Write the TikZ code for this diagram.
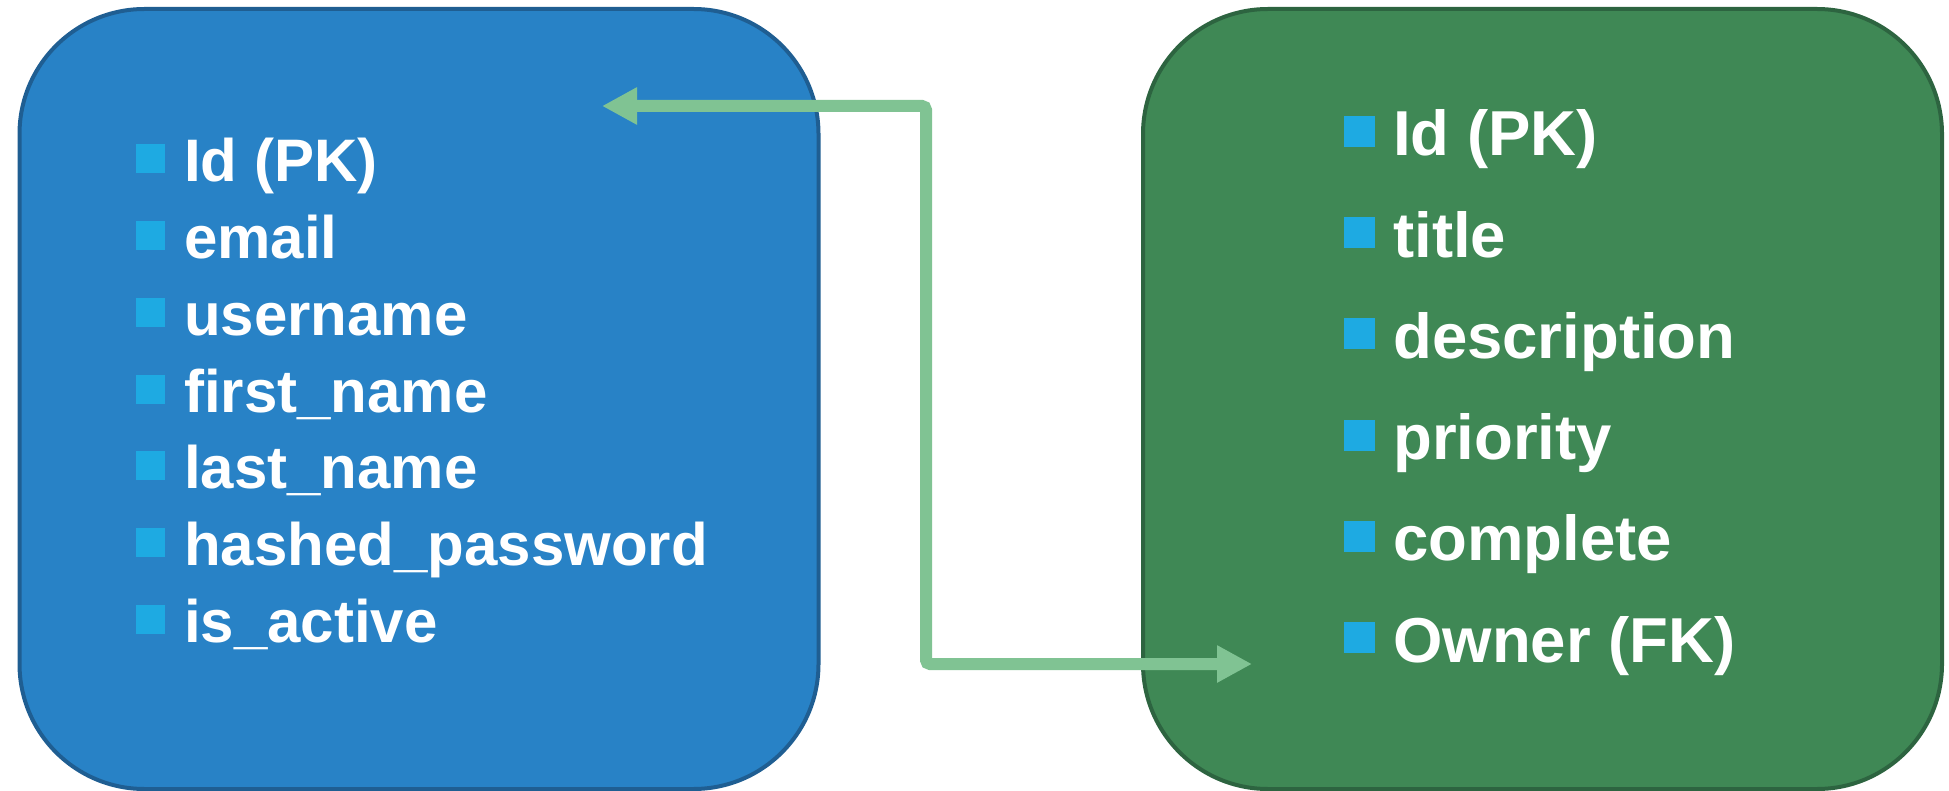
\documentclass[tikz,border=0pt]{standalone}
\usepackage{fontspec}
\setmainfont{Liberation Sans}
\usetikzlibrary{arrows.meta}
\definecolor{ublue}{HTML}{2882C6}
\definecolor{ubluedark}{HTML}{1F5E92}
\definecolor{tgreen}{HTML}{3F8855}
\definecolor{tgreendark}{HTML}{2D6440}
\definecolor{bulletcyan}{HTML}{1EAAE2}
\definecolor{linkgreen}{HTML}{80C393}
\begin{document}
\begin{tikzpicture}[x=1pt,y=-1pt,
  table/.style={draw, line width=4pt, rounded corners=125pt, inner sep=0pt, outer sep=0pt},
  ufield/.style={anchor=base west, inner sep=0pt, text=white, font=\bfseries\fontsize{60}{60}\selectfont},
  tfield/.style={anchor=base west, inner sep=0pt, text=white, font=\bfseries\fontsize{63.5}{63.5}\selectfont},
  bullet/.style={fill=bulletcyan},
  link/.style={draw=linkgreen, line width=12pt, rounded corners=4pt,
    {Triangle[length=35pt,width=35pt]}-{Triangle[length=35pt,width=35pt]}}]
\useasboundingbox (0,0) rectangle (1949,791);
% tables
\node[table, fill=ublue, draw=ubluedark, minimum width=799pt, minimum height=780pt] (users) at (419,399) {};
\node[table, fill=tgreen, draw=tgreendark, minimum width=799pt, minimum height=780pt] (tasks) at (1542.5,399) {};
% users fields
\foreach \t [count=\i from 0] in {Id (PK), email, username, first\_name, last\_name, hashed\_password, is\_active}{
  \pgfmathsetmacro{\b}{182+76.7*\i}
  \fill[bullet] (135.5,\b-37.5) rectangle +(29.5,29);
  \node[ufield] (u\i) at (184,\b) {\t};
}
% tasks fields
\foreach \t [count=\i from 0] in {Id (PK), title, description, priority, complete, Owner (FK)}{
  \pgfmathsetmacro{\b}{156+101.2*\i}
  \fill[bullet] (1344,\b-40) rectangle +(31,31);
  \node[tfield] (t\i) at (1393,\b) {\t};
}
% relation
\coordinate (uEnd) at (602,106);
\coordinate (bend) at (926,106);
\coordinate (tEnd) at (1252,664);
\draw[link] (uEnd) -- (bend) |- (tEnd);
\end{tikzpicture}
\end{document}
